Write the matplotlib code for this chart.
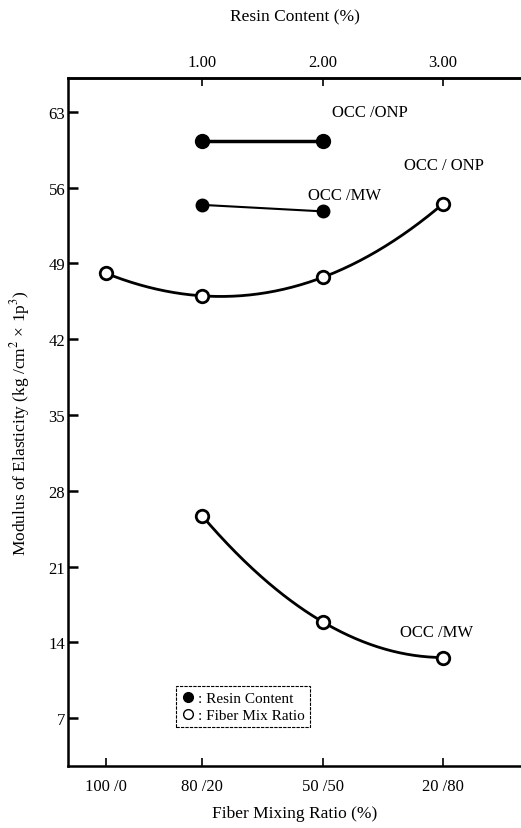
import numpy as np
import matplotlib
matplotlib.use("Agg")
from matplotlib import pyplot as plt
from matplotlib.lines import Line2D

plt.rcParams['font.family'] = ['Liberation Serif', 'DejaVu Serif']
plt.rcParams['mathtext.fontset'] = 'stix'

# bottom axis: fiber mixing ratio (OCC / other)
fiber_labels = ["100 /0", "80 /20", "50 /50", "20 /80"]
fiber_pos = [0.2, 1.0, 2.0, 3.0]

# top axis: resin content (%)
resin_ticks = [1.0, 2.0, 3.0]
resin_labels = ["1.00", "2.00", "3.00"]

# fiber mix series (open circles)
onp_fiber = [48.1, 46.0, 47.7, 54.5]
mw_fiber = [25.7, 15.9, 12.6]          # 80/20, 50/50, 20/80

# resin content series (filled circles)
resin_x = [1.0, 2.0]
onp_resin = [60.3, 60.3]
mw_resin = [54.4, 53.8]

yticks = [7, 14, 21, 28, 35, 42, 49, 56, 63]

fig = plt.figure(figsize=(5.21, 8.29), dpi=100)
ax = fig.add_axes([0.1305, 0.075, 0.8695, 0.8295])

# smooth curves through the open-circle points
xs = np.linspace(fiber_pos[0], fiber_pos[-1], 200)
c = np.polyfit(fiber_pos, onp_fiber, 3)
ax.plot(xs, np.polyval(c, xs), color='black', lw=2.0)
xs2 = np.linspace(fiber_pos[1], fiber_pos[-1], 200)
c2 = np.polyfit(fiber_pos[1:], mw_fiber, 2)
ax.plot(xs2, np.polyval(c2, xs2), color='black', lw=2.0)

ax.plot(fiber_pos, onp_fiber, 'o', ms=9, mfc='white', mec='black', mew=2.0)
ax.plot(fiber_pos[1:], mw_fiber, 'o', ms=9, mfc='white', mec='black', mew=2.0)

ax.plot(resin_x, onp_resin, '-o', color='black', lw=2.5, ms=10)
ax.plot(resin_x, mw_resin, '-o', color='black', lw=1.5, ms=9)

ax.text(2.08, 63.0, "OCC /ONP", fontsize=12, va='center', ha='left')
ax.text(2.68, 58.1, "OCC / ONP", fontsize=12, va='center', ha='left')
ax.text(1.88, 55.3, "OCC /MW", fontsize=12, va='center', ha='left')
ax.text(2.64, 15.0, "OCC /MW", fontsize=12, va='center', ha='left')

ax.set_xlim(-0.112, 3.647)
ax.set_ylim(2.6, 66.1)
ax.set_yticks(yticks)
ax.set_xticks(fiber_pos)
ax.set_xticklabels(fiber_labels)
ax.spines['right'].set_visible(False)
for s in ['left', 'bottom', 'top']:
    ax.spines[s].set_linewidth(1.8)
ax.tick_params(axis='y', direction='in', length=7, width=1.8, labelsize=12, pad=2)
ax.tick_params(axis='x', direction='in', length=6, width=1.2, labelsize=12, pad=9)
ax.set_xlabel("Fiber Mixing Ratio (%)", fontsize=12.5, labelpad=8)
ax.set_ylabel("Modulus of Elasticity (kg /cm$^2$ × 1p$^3$)", fontsize=12.5, labelpad=12)

top = ax.secondary_xaxis('top')
top.set_xticks(resin_ticks)
top.set_xticklabels(resin_labels)
top.tick_params(direction='in', length=6, width=1.2, labelsize=12, pad=6)
top.spines['top'].set_linewidth(1.8)
top.set_xlabel("Resin Content (%)", fontsize=12.5, labelpad=24)

handles = [
    Line2D([], [], ls='', marker='o', ms=7, color='black'),
    Line2D([], [], ls='', marker='o', ms=7, mfc='white', mec='black', mew=1.0),
]
leg = ax.legend(handles, [": Resin Content", ": Fiber Mix Ratio"], loc='lower left',
                bbox_to_anchor=(0.222, 0.045), fontsize=11, handlelength=0.8,
                handletextpad=0.3, borderpad=0.35, labelspacing=0.2,
                fancybox=False, framealpha=1)
leg.get_frame().set_edgecolor('black')
leg.get_frame().set_linewidth(0.8)
leg.get_frame().set_linestyle((0, (3, 1)))

fig.savefig("out.png", dpi=100)
